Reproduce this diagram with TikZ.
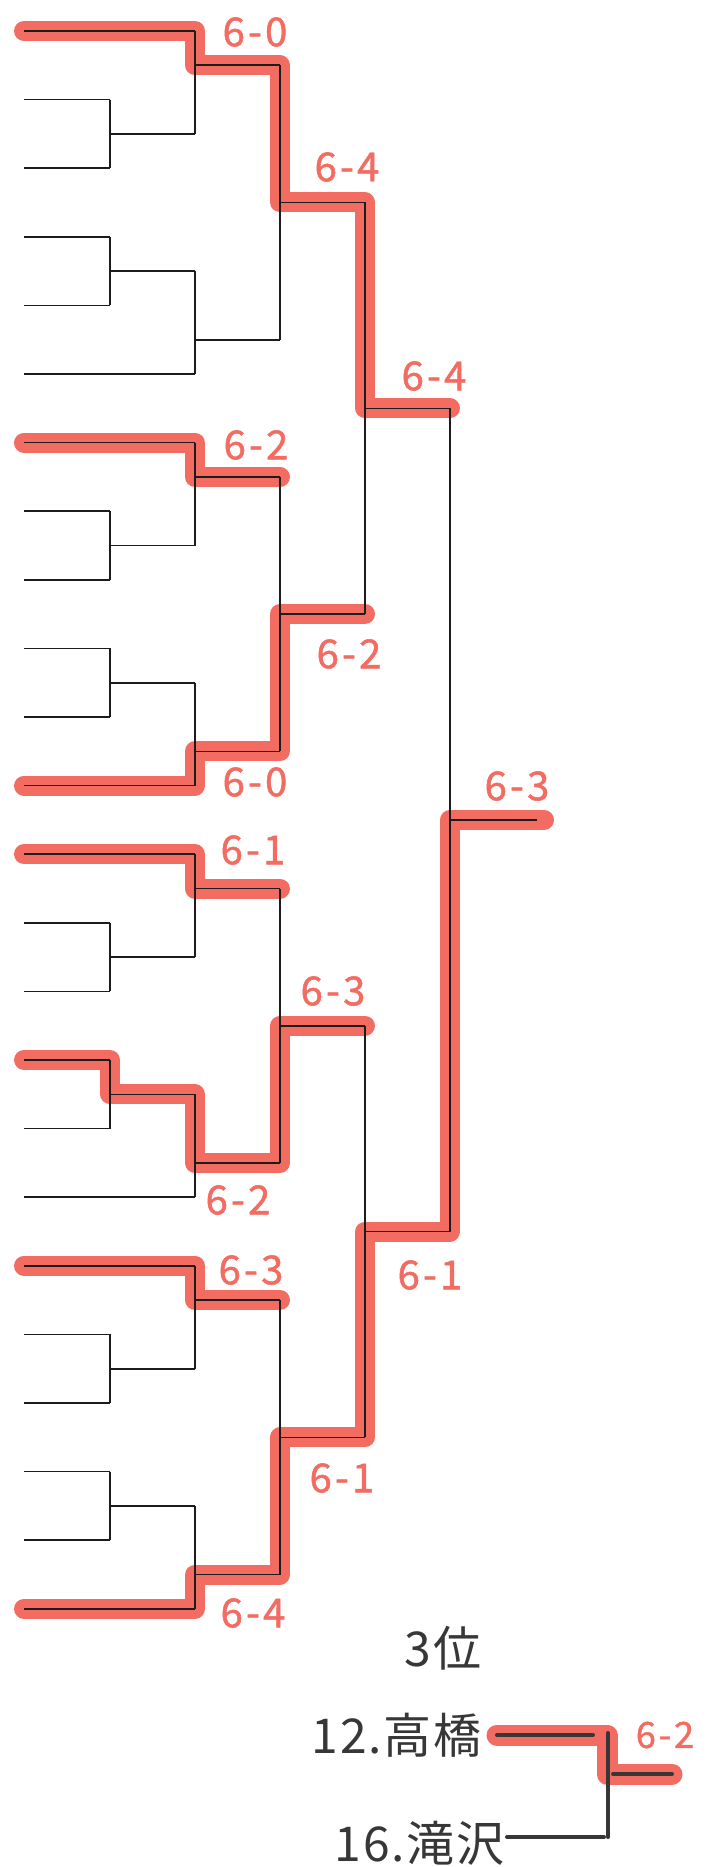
\documentclass[tikz,border=0pt]{standalone}
\usepackage{fontspec}
\setmainfont{Noto Sans CJK JP}
\newfontfamily\lab[LetterSpace=8,FakeBold=1.2]{Noto Sans CJK JP}
\newfontfamily\nm[LetterSpace=4]{Noto Sans CJK JP}
\definecolor{marker}{RGB}{242,108,98}
\definecolor{ink}{RGB}{28,28,28}
\definecolor{pen}{RGB}{55,55,55}
\begin{document}
\begin{tikzpicture}[x=1pt,y=-1pt,
  line/.style={draw=ink,line width=1.6pt,line cap=square},
  hl/.style={draw=marker,line width=20pt,line cap=round,line join=round},
  hlb/.style={draw=marker,line width=21pt,line cap=round,line join=round},
  score/.style={text=marker,font=\lab\fontsize{40}{42}\selectfont,inner sep=0pt},
  pname/.style={text=pen,font=\nm\fontsize{48}{50}\selectfont,inner sep=0pt},
  penline/.style={draw=pen,line width=4pt,line cap=round}]
\useasboundingbox (0,0) rectangle (707,1867);
\fill[white] (0,0) rectangle (707,1867);
% grid coordinates: quarter q, column c, half-step offset o
\foreach \q in {0,...,3}{
  \foreach \c/\x in {0/24,1/110,2/195,3/280,4/365,5/450,6/537}{
    \foreach \o in {0,...,11}{
      \coordinate (q\q-\c-\o) at (\x,{31+34.3*(12*\q+\o)});
    }
  }
}
% ---------- red highlights (winner paths) ----------
\draw[hl] (q0-0-0) -- (q0-2-0) -- (q0-2-1) -- (q0-3-1) -- (q0-3-5) -- (q0-4-5) -- (q0-4-11) -- (q0-5-11);
\draw[hl] (q1-0-0) -- (q1-2-0) -- (q1-2-1) -- (q1-3-1);
\draw[hl] (q1-0-10) -- (q1-2-10) -- (q1-2-9) -- (q1-3-9) -- (q1-3-5) -- (q1-4-5);
\draw[hl] (q2-0-0) -- (q2-2-0) -- (q2-2-1) -- (q2-3-1);
\draw[hl] (q2-0-6) -- (q2-1-6) -- (q2-1-7) -- (q2-2-7) -- (q2-2-9) -- (q2-3-9) -- (q2-3-5) -- (q2-4-5);
\draw[hl] (q3-0-0) -- (q3-2-0) -- (q3-2-1) -- (q3-3-1);
\draw[hl] (q3-0-10) -- (q3-2-10) -- (q3-2-9) -- (q3-3-9) -- (q3-3-5) -- (q3-4-5) -- (q2-4-11) -- (q2-5-11) -- (q1-5-11) -- ([xshift=7pt]q1-6-11);
% ---------- black bracket ----------
\foreach \q in {0,...,3}{
  \draw[line] (q\q-0-0) -- (q\q-2-0);
  \draw[line] (q\q-0-2) -- (q\q-1-2);
  \draw[line] (q\q-0-4) -- (q\q-1-4);
  \draw[line] (q\q-0-6) -- (q\q-1-6);
  \draw[line] (q\q-0-8) -- (q\q-1-8);
  \draw[line] (q\q-0-10) -- (q\q-2-10);
  \draw[line] (q\q-1-2) -- (q\q-1-4);
  \draw[line] (q\q-1-3) -- (q\q-2-3);
  \draw[line] (q\q-1-6) -- (q\q-1-8);
  \draw[line] (q\q-1-7) -- (q\q-2-7);
  \draw[line] (q\q-2-0) -- (q\q-2-3);
  \draw[line] (q\q-2-1) -- (q\q-3-1);
  \draw[line] (q\q-2-7) -- (q\q-2-10);
  \draw[line] (q\q-2-9) -- (q\q-3-9);
  \draw[line] (q\q-3-1) -- (q\q-3-9);
  \draw[line] (q\q-3-5) -- (q\q-4-5);
}
\draw[line] (q0-4-5) -- (q1-4-5);
\draw[line] (q0-4-11) -- (q0-5-11);
\draw[line] (q2-4-5) -- (q3-4-5);
\draw[line] (q2-4-11) -- (q2-5-11);
\draw[line] (q0-5-11) -- (q2-5-11);
\draw[line] (q1-5-11) -- (q1-6-11);
% ---------- scores ----------
\node[score] (s1)  at (255,32)   {6-0};
\node[score] (s2)  at (347,167)  {6-4};
\node[score] (s3)  at (434,376)  {6-4};
\node[score] (s4)  at (256,445)  {6-2};
\node[score] (s5)  at (349,654)  {6-2};
\node[score] (s6)  at (255,782)  {6-0};
\node[score] (s7)  at (253,850)  {6-1};
\node[score] (s8)  at (333,991)  {6-3};
\node[score] (s9)  at (238,1200) {6-2};
\node[score] (s10) at (251,1270) {6-3};
\node[score] (s11) at (342,1478) {6-1};
\node[score] (s12) at (253,1613) {6-4};
\node[score] (s13) at (430,1275) {6-1};
\node[score] (s14) at (517,786)  {6-3};
% ---------- third place ----------
\node[pname] (third) at (443,1648) {3位};
\node[pname,anchor=east] (p12) at (482,1735) {12.高橋};
\node[pname,anchor=east] (p16) at (505,1843) {16.滝沢};
\coordinate (a1) at ([xshift=15pt]p12.east);
\coordinate (a2) at (593,1735);
\coordinate (v1) at (608,1733);
\coordinate (v2) at (608,1837);
\coordinate (b1) at (507,1837);
\coordinate (b2) at (604,1837);
\coordinate (o1) at (613,1774);
\coordinate (o2) at (672,1774);
\draw[hlb] (a1) -- (607,1735) -- (607,1774) -- (o2);
\draw[penline] (a1) -- (a2);
\draw[penline] (v1) -- (v2);
\draw[penline] (b1) -- (b2);
\draw[penline] (o1) -- (o2);
\node[score,font=\lab\fontsize{36}{38}\selectfont] (s15) at (665,1735) {6-2};
\end{tikzpicture}
\end{document}
